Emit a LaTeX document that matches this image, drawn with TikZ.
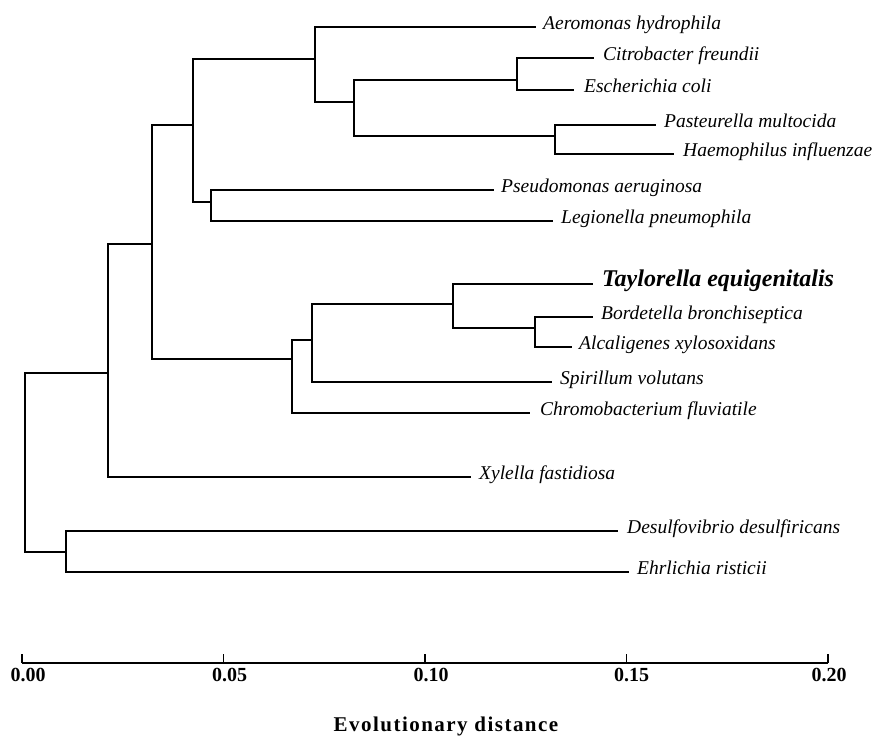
\documentclass[tikz,border=0pt]{standalone}
\usepackage{fontspec}
\setmainfont{Liberation Serif}
\newfontfamily\spacedfont{Liberation Serif}[LetterSpace=7]
\begin{document}
\begin{tikzpicture}[x=1pt,y=-1pt,
  branch/.style={draw, line width=1.1pt, line join=miter},
  leaflabel/.style={anchor=base west, inner sep=0pt, font=\fontsize{19.5}{22}\selectfont\itshape},
  biglabel/.style={anchor=base west, inner sep=0pt, font=\fontsize{24}{28}\selectfont\bfseries\itshape},
  ticklabel/.style={anchor=base, inner sep=0pt, font=\fontsize{20}{24}\selectfont\bfseries},
  titlelabel/.style={anchor=base, inner sep=0pt, font=\fontsize{21}{25}\selectfont\bfseries\spacedfont}]
\useasboundingbox (0,0) rectangle (876,736);
% leaves (branch ends)
\coordinate (aer) at (536,27);
\coordinate (cit) at (594,58);
\coordinate (eco) at (574,90);
\coordinate (pas) at (656,125);
\coordinate (hae) at (674,154);
\coordinate (pse) at (494,190);
\coordinate (leg) at (553,221);
\coordinate (tay) at (593,284);
\coordinate (bor) at (593,317);
\coordinate (alc) at (572,347);
\coordinate (spi) at (552,382);
\coordinate (chr) at (530,413);
\coordinate (xyl) at (471,477);
\coordinate (des) at (618,531);
\coordinate (ehr) at (629,572);
% internal nodes
\coordinate (nce) at (517,80);
\coordinate (nph) at (555,136);
\coordinate (nceph) at (354,102);
\coordinate (naer) at (315,59);
\coordinate (npl) at (211,202);
\coordinate (ntop) at (193,125);
\coordinate (nbc) at (535,328);
\coordinate (ntb) at (453,304);
\coordinate (nsp) at (312,340);
\coordinate (nch) at (292,359);
\coordinate (na) at (152,244);
\coordinate (nx) at (108,373);
\coordinate (nde) at (66,552);
\coordinate (root) at (25,462);
% branches
\path[branch] (root) |- (nx);
\path[branch] (root) |- (nde);
\path[branch] (nde) |- (des);
\path[branch] (nde) |- (ehr);
\path[branch] (nx) |- (na);
\path[branch] (nx) |- (xyl);
\path[branch] (na) |- (ntop);
\path[branch] (na) |- (nch);
\path[branch] (ntop) |- (naer);
\path[branch] (ntop) |- (npl);
\path[branch] (npl) |- (pse);
\path[branch] (npl) |- (leg);
\path[branch] (naer) |- (aer);
\path[branch] (naer) |- (nceph);
\path[branch] (nceph) |- (nce);
\path[branch] (nceph) |- (nph);
\path[branch] (nce) |- (cit);
\path[branch] (nce) |- (eco);
\path[branch] (nph) |- (pas);
\path[branch] (nph) |- (hae);
\path[branch] (nch) |- (nsp);
\path[branch] (nch) |- (chr);
\path[branch] (nsp) |- (ntb);
\path[branch] (nsp) |- (spi);
\path[branch] (ntb) |- (tay);
\path[branch] (ntb) |- (nbc);
\path[branch] (nbc) |- (bor);
\path[branch] (nbc) |- (alc);
% leaf labels
\node[leaflabel] (laer) at ([shift={(7,2.5)}]aer) {Aeromonas hydrophila};
\node[leaflabel] (lcit) at ([shift={(9,2.5)}]cit) {Citrobacter freundii};
\node[leaflabel] (leco) at ([shift={(10,2.5)}]eco) {Escherichia coli};
\node[leaflabel] (lpas) at ([shift={(8,2.5)}]pas) {Pasteurella multocida};
\node[leaflabel] (lhae) at ([shift={(9,2.5)}]hae) {Haemophilus influenzae};
\node[leaflabel] (lpse) at ([shift={(7,2.5)}]pse) {Pseudomonas aeruginosa};
\node[leaflabel] (lleg) at ([shift={(8,2.5)}]leg) {Legionella pneumophila};
\node[biglabel] (ltay) at ([shift={(9,2.5)}]tay) {Taylorella equigenitalis};
\node[leaflabel] (lbor) at ([shift={(8,2.5)}]bor) {Bordetella bronchiseptica};
\node[leaflabel] (lalc) at ([shift={(7,2.5)}]alc) {Alcaligenes xylosoxidans};
\node[leaflabel] (lspi) at ([shift={(8,2.5)}]spi) {Spirillum volutans};
\node[leaflabel] (lchr) at ([shift={(10,2.5)}]chr) {Chromobacterium fluviatile};
\node[leaflabel] (lxyl) at ([shift={(8,2.5)}]xyl) {Xylella fastidiosa};
\node[leaflabel] (ldes) at ([shift={(9,2.5)}]des) {Desulfovibrio desulfiricans};
\node[leaflabel] (lehr) at ([shift={(8,2.5)}]ehr) {Ehrlichia risticii};
% axis
\coordinate (t0) at (22,663);
\coordinate (t1) at (223.5,663);
\coordinate (t2) at (425,663);
\coordinate (t3) at (626.5,663);
\coordinate (t4) at (828,663);
\path[draw, line width=1.1pt] (t0) -- (t4);
\foreach \t in {t0,t1,t2,t3,t4} {\path[draw, line width=1.1pt] (\t) -- ([shift={(0,-9)}]\t);}
\node[ticklabel] (l0) at ([shift={(6,18)}]t0) {0.00};
\node[ticklabel] (l1) at ([shift={(6,18)}]t1) {0.05};
\node[ticklabel] (l2) at ([shift={(6,18)}]t2) {0.10};
\node[ticklabel] (l3) at ([shift={(5,18)}]t3) {0.15};
\node[ticklabel] (l4) at ([shift={(1,18)}]t4) {0.20};
\node[titlelabel] (title) at (446,731) {Evolutionary distance};
\end{tikzpicture}
\end{document}
